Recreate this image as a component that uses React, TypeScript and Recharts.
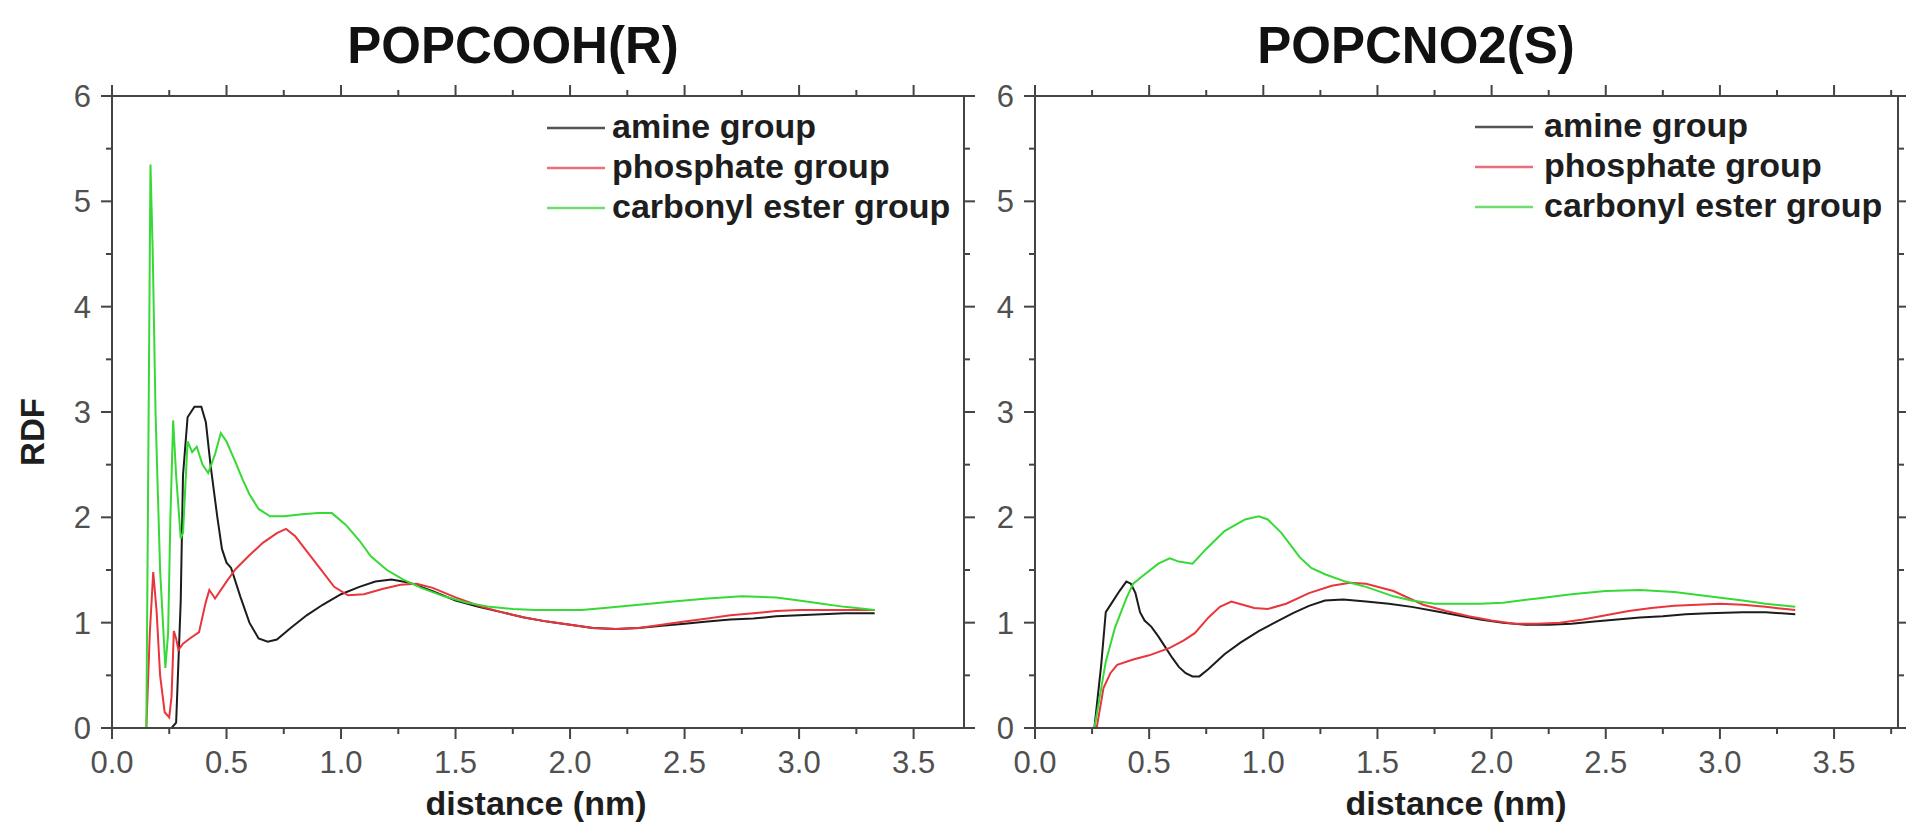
import { LineChart, Line, XAxis, YAxis, ReferenceLine } from "recharts";

// distance (nm), RDF pairs
const LEFT_AMINE = [
  [0.26, 0], [0.28, 0.05], [0.3, 1.2], [0.31, 2.4], [0.33, 2.95], [0.36, 3.05], [0.39, 3.05],
  [0.41, 2.9], [0.43, 2.5], [0.46, 2.0], [0.48, 1.7], [0.5, 1.57], [0.52, 1.52], [0.56, 1.25],
  [0.6, 1.0], [0.64, 0.85], [0.68, 0.82], [0.72, 0.84], [0.78, 0.95], [0.85, 1.07], [0.92, 1.17],
  [1.0, 1.27], [1.08, 1.34], [1.15, 1.39], [1.22, 1.41], [1.3, 1.38], [1.4, 1.3], [1.5, 1.21],
  [1.6, 1.15], [1.7, 1.1], [1.8, 1.05], [1.9, 1.01], [2.0, 0.98], [2.1, 0.95], [2.2, 0.94],
  [2.3, 0.95], [2.4, 0.97], [2.5, 0.99], [2.6, 1.01], [2.7, 1.03], [2.8, 1.04], [2.9, 1.06],
  [3.0, 1.07], [3.1, 1.08], [3.2, 1.09], [3.33, 1.09],
];

const LEFT_PHOSPHATE = [
  [0.15, 0], [0.165, 0.9], [0.18, 1.48], [0.195, 1.1], [0.21, 0.5], [0.23, 0.15], [0.25, 0.1],
  [0.26, 0.3], [0.27, 0.92], [0.28, 0.85], [0.29, 0.74], [0.31, 0.8], [0.34, 0.85], [0.38, 0.91],
  [0.41, 1.2], [0.425, 1.31], [0.45, 1.23], [0.5, 1.39], [0.54, 1.51], [0.6, 1.64], [0.66, 1.76],
  [0.72, 1.85], [0.76, 1.89], [0.8, 1.82], [0.85, 1.68], [0.91, 1.51], [0.97, 1.34], [1.03, 1.26],
  [1.1, 1.27], [1.18, 1.32], [1.26, 1.36], [1.33, 1.37], [1.4, 1.33], [1.5, 1.24], [1.6, 1.16],
  [1.7, 1.1], [1.8, 1.05], [1.9, 1.01], [2.0, 0.98], [2.1, 0.95], [2.2, 0.94], [2.3, 0.95],
  [2.4, 0.98], [2.5, 1.01], [2.6, 1.04], [2.7, 1.07], [2.8, 1.09], [2.9, 1.11], [3.0, 1.12],
  [3.1, 1.12], [3.2, 1.12], [3.33, 1.12],
];

const LEFT_CARBONYL = [
  [0.15, 0], [0.16, 3.0], [0.168, 5.35], [0.178, 4.5], [0.19, 3.0], [0.21, 1.5], [0.233, 0.57],
  [0.245, 0.9], [0.255, 2.0], [0.267, 2.92], [0.28, 2.4], [0.3, 1.8], [0.31, 1.85], [0.33, 2.72],
  [0.35, 2.62], [0.37, 2.67], [0.395, 2.5], [0.42, 2.42], [0.45, 2.6], [0.475, 2.8], [0.5, 2.72],
  [0.54, 2.52], [0.57, 2.36], [0.6, 2.22], [0.64, 2.08], [0.69, 2.01], [0.75, 2.01], [0.83, 2.03],
  [0.9, 2.04], [0.96, 2.04], [1.02, 1.93], [1.08, 1.78], [1.13, 1.63], [1.2, 1.5], [1.27, 1.41],
  [1.35, 1.33], [1.45, 1.25], [1.55, 1.19], [1.65, 1.15], [1.75, 1.13], [1.85, 1.12], [1.95, 1.12],
  [2.05, 1.12], [2.15, 1.14], [2.3, 1.17], [2.45, 1.2], [2.6, 1.23], [2.75, 1.25], [2.9, 1.24],
  [3.0, 1.21], [3.1, 1.18], [3.2, 1.15], [3.33, 1.12],
];

const RIGHT_AMINE = [
  [0.26, 0], [0.29, 0.6], [0.31, 1.1], [0.34, 1.2], [0.37, 1.3], [0.4, 1.39], [0.42, 1.37],
  [0.44, 1.28], [0.46, 1.1], [0.48, 1.02], [0.51, 0.96], [0.54, 0.87], [0.57, 0.77], [0.6, 0.67],
  [0.63, 0.58], [0.66, 0.52], [0.69, 0.49], [0.72, 0.49], [0.76, 0.56], [0.83, 0.7], [0.9, 0.81],
  [0.98, 0.92], [1.05, 1.0], [1.13, 1.09], [1.2, 1.16], [1.27, 1.21], [1.35, 1.22], [1.45, 1.2],
  [1.55, 1.18], [1.65, 1.15], [1.75, 1.11], [1.85, 1.07], [1.95, 1.03], [2.05, 1.0], [2.15, 0.98],
  [2.25, 0.98], [2.35, 0.99], [2.45, 1.01], [2.55, 1.03], [2.65, 1.05], [2.75, 1.06], [2.85, 1.08],
  [2.95, 1.09], [3.1, 1.1], [3.2, 1.1], [3.33, 1.08],
];

const RIGHT_PHOSPHATE = [
  [0.27, 0], [0.29, 0.25], [0.3, 0.38], [0.33, 0.52], [0.36, 0.6], [0.43, 0.65], [0.5, 0.69],
  [0.59, 0.76], [0.65, 0.83], [0.7, 0.9], [0.76, 1.05], [0.81, 1.15], [0.86, 1.2], [0.91, 1.17],
  [0.96, 1.14], [1.02, 1.13], [1.1, 1.18], [1.2, 1.28], [1.3, 1.35], [1.38, 1.38], [1.45, 1.37],
  [1.57, 1.3], [1.7, 1.17], [1.8, 1.11], [1.9, 1.06], [2.0, 1.02], [2.1, 0.99], [2.2, 0.99],
  [2.3, 1.0], [2.4, 1.03], [2.5, 1.07], [2.6, 1.11], [2.7, 1.14], [2.8, 1.16], [2.9, 1.17],
  [3.0, 1.18], [3.1, 1.17], [3.2, 1.15], [3.33, 1.12],
];

const RIGHT_CARBONYL = [
  [0.26, 0], [0.28, 0.25], [0.31, 0.63], [0.35, 0.95], [0.4, 1.23], [0.43, 1.37], [0.47, 1.44],
  [0.54, 1.56], [0.59, 1.61], [0.63, 1.58], [0.69, 1.56], [0.75, 1.7], [0.83, 1.87], [0.92, 1.98],
  [0.98, 2.01], [1.02, 1.98], [1.08, 1.85], [1.16, 1.62], [1.21, 1.52], [1.27, 1.46], [1.36, 1.39],
  [1.45, 1.34], [1.57, 1.25], [1.65, 1.21], [1.75, 1.18], [1.85, 1.18], [1.95, 1.18], [2.05, 1.19],
  [2.2, 1.23], [2.35, 1.27], [2.5, 1.3], [2.65, 1.31], [2.8, 1.29], [2.95, 1.25], [3.1, 1.21],
  [3.2, 1.18], [3.33, 1.15],
];

const SERIES_NAMES = ["amine group", "phosphate group", "carbonyl ester group"];
const SERIES_COLORS = ["#1c1c1c", "#e8363c", "#36d936"];
const LEGEND_COLORS = ["#555555", "#e8707c", "#70dc70"];
const TITLES = ["POPCOOH(R)", "POPCNO2(S)"];

const X_TICKS = [0, 0.25, 0.5, 0.75, 1, 1.25, 1.5, 1.75, 2, 2.25, 2.5, 2.75, 3, 3.25, 3.5, 3.75];
const Y_TICKS = [0, 0.5, 1, 1.5, 2, 2.5, 3, 3.5, 4, 4.5, 5, 5.5, 6];
const LEFT_X_MAX = 3.72;
const RIGHT_X_MAX = 3.78;
const Y_MAX = 6;

const FONT = "'Liberation Sans', Arial, sans-serif";
const AXIS = "#444";
const TOP = 96;
const BOTTOM = 728;

const toPoints = (arr: number[][]) => arr.map(([x, y]) => ({ x, y }));

const XTick = (props: any) => {
  const { x, payload } = props;
  const v = payload.value;
  const major = Math.abs(v * 2 - Math.round(v * 2)) < 1e-6;
  const len = major ? 11 : 6;
  return (
    <g>
      <line x1={x} x2={x} y1={BOTTOM} y2={BOTTOM + len} stroke={AXIS} strokeWidth={2} />
      <line x1={x} x2={x} y1={TOP} y2={TOP - len} stroke={AXIS} strokeWidth={2} />
      {major && (
        <text x={x} y={773} textAnchor="middle" fontSize={31} fill="#505050" fontFamily={FONT}>
          {v.toFixed(1)}
        </text>
      )}
    </g>
  );
};

const YTick = (props: any) => {
  const { y, payload, plotLeft, plotRight } = props;
  const v = payload.value;
  const major = Number.isInteger(v);
  const len = major ? 11 : 6;
  return (
    <g>
      <line x1={plotLeft - len} x2={plotLeft} y1={y} y2={y} stroke={AXIS} strokeWidth={2} />
      <line x1={plotRight} x2={plotRight + len} y1={y} y2={y} stroke={AXIS} strokeWidth={2} />
      {major && (
        <text x={plotLeft - 21} y={y} dy="0.36em" textAnchor="end" fontSize={31} fill="#505050" fontFamily={FONT}>
          {v}
        </text>
      )}
    </g>
  );
};

interface PanelProps {
  left: number;
  width: number;
  plotLeft: number;
  marginRight: number;
  xMax: number;
  series: number[][][];
}

const Panel = ({ left, width, plotLeft, marginRight, xMax, series }: PanelProps) => {
  const plotRight = width - marginRight;
  const xTicks = X_TICKS.filter((t) => t <= xMax);
  return (
    <div style={{ position: "absolute", left, top: 0 }}>
      <LineChart
        width={width}
        height={828}
        margin={{ top: TOP, right: marginRight, bottom: 0, left: 0 }}
      >
        <XAxis
          type="number"
          dataKey="x"
          domain={[0, xMax]}
          ticks={xTicks}
          interval={0}
          height={828 - BOTTOM}
          tickLine={false}
          axisLine={{ stroke: AXIS, strokeWidth: 2 }}
          tick={(p: any) => <XTick {...p} />}
          allowDataOverflow
        />
        <YAxis
          type="number"
          domain={[0, Y_MAX]}
          ticks={Y_TICKS}
          interval={0}
          width={plotLeft}
          tickLine={false}
          axisLine={{ stroke: AXIS, strokeWidth: 2 }}
          tick={(p: any) => <YTick {...p} plotLeft={plotLeft} plotRight={plotRight} />}
          allowDataOverflow
        />
        <ReferenceLine y={Y_MAX} stroke={AXIS} strokeWidth={2} />
        <ReferenceLine x={xMax} stroke={AXIS} strokeWidth={2} />
        {series.map((s, i) => (
          <Line
            key={SERIES_NAMES[i]}
            data={toPoints(s)}
            dataKey="y"
            name={SERIES_NAMES[i]}
            type="linear"
            stroke={SERIES_COLORS[i]}
            strokeWidth={2}
            dot={false}
            isAnimationActive={false}
          />
        ))}
      </LineChart>
    </div>
  );
};

const LegendBlock = ({ lineX, textX, rowY }: { lineX: number; textX: number; rowY: number }) => (
  <g>
    {SERIES_NAMES.map((name, i) => (
      <g key={name}>
        <line
          x1={lineX}
          x2={lineX + 58}
          y1={rowY + i * 40}
          y2={rowY + i * 40}
          stroke={LEGEND_COLORS[i]}
          strokeWidth={2.5}
        />
        <text
          x={textX}
          y={rowY + i * 40 + 10}
          fontSize={34}
          fontWeight="bold"
          fill="#1e1e1e"
          fontFamily={FONT}
        >
          {name}
        </text>
      </g>
    ))}
  </g>
);

const App = () => {
  return (
    <div
      style={{
        position: "absolute",
        left: 0,
        top: 0,
        width: 1906,
        height: 828,
        background: "#fff",
        overflow: "hidden",
      }}
    >
      <Panel
        left={0}
        width={1000}
        plotLeft={112}
        marginRight={36}
        xMax={LEFT_X_MAX}
        series={[LEFT_AMINE, LEFT_PHOSPHATE, LEFT_CARBONYL]}
      />
      <Panel
        left={980}
        width={926}
        plotLeft={55}
        marginRight={8}
        xMax={RIGHT_X_MAX}
        series={[RIGHT_AMINE, RIGHT_PHOSPHATE, RIGHT_CARBONYL]}
      />

      <svg
        width={1906}
        height={828}
        style={{ position: "absolute", left: 0, top: 0, pointerEvents: "none" }}
      >
        <text x={513} y={63} textAnchor="middle" fontSize={51} fontWeight="bold" fill="#111" fontFamily={FONT}>
          {TITLES[0]}
        </text>
        <text x={1416} y={63} textAnchor="middle" fontSize={51} fontWeight="bold" fill="#111" fontFamily={FONT}>
          {TITLES[1]}
        </text>

        <text
          transform="translate(44,432) rotate(-90)"
          textAnchor="middle"
          fontSize={33}
          fontWeight="bold"
          fill="#1e1e1e"
          fontFamily={FONT}
        >
          RDF
        </text>

        <text x={536} y={815} textAnchor="middle" fontSize={34} fontWeight="bold" fill="#1e1e1e" fontFamily={FONT}>
          distance (nm)
        </text>
        <text x={1456} y={815} textAnchor="middle" fontSize={34} fontWeight="bold" fill="#1e1e1e" fontFamily={FONT}>
          distance (nm)
        </text>

        <LegendBlock lineX={547} textX={612} rowY={128} />
        <LegendBlock lineX={1475} textX={1544} rowY={127} />
      </svg>
    </div>
  );
};

export default App;
